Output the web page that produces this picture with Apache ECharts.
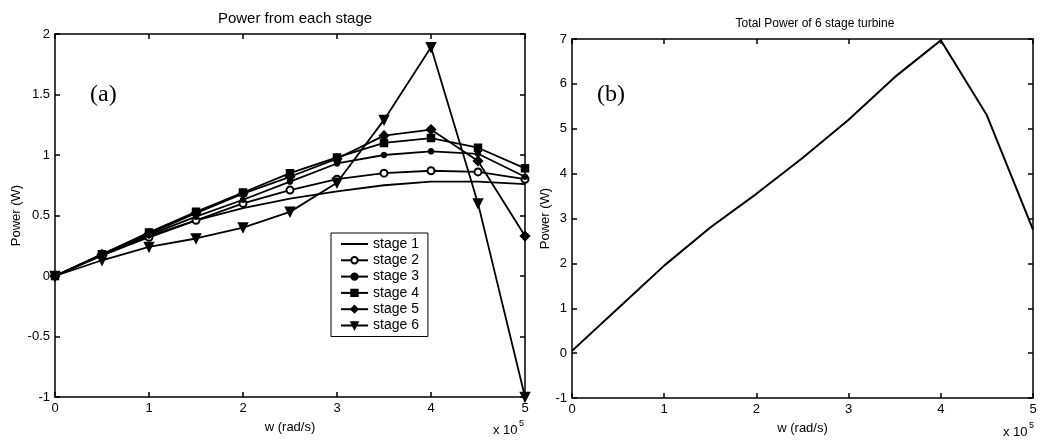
<!DOCTYPE html>
<html>
<head>
<meta charset="utf-8">
<script src="https://cdn.jsdelivr.net/npm/echarts@6/dist/echarts.min.js"></script>
<style>
  html, body { margin: 0; padding: 0; background: #fff; }
  #main { width: 1045px; height: 445px; }
</style>
</head>
<body>
<div id="main"></div>
<script>
// w in units of 1e5 rad/s
const w = [0, 0.5, 1, 1.5, 2, 2.5, 3, 3.5, 4, 4.5, 5];
const stageNames = ['stage 1', 'stage 2', 'stage 3', 'stage 4', 'stage 5', 'stage 6'];
const stage1 = [0, 0.17, 0.33, 0.46, 0.56, 0.64, 0.70, 0.75, 0.78, 0.78, 0.76];
const stage2 = [0, 0.17, 0.32, 0.46, 0.60, 0.71, 0.80, 0.85, 0.87, 0.86, 0.80];
const stage3 = [0, 0.18, 0.34, 0.49, 0.63, 0.78, 0.93, 1.00, 1.03, 1.01, 0.82];
const stage4 = [0, 0.18, 0.36, 0.53, 0.69, 0.85, 0.98, 1.10, 1.14, 1.06, 0.89];
const stage5 = [0, 0.18, 0.35, 0.52, 0.68, 0.82, 0.97, 1.16, 1.21, 0.95, 0.33];
const stage6 = [0, 0.13, 0.24, 0.31, 0.40, 0.53, 0.77, 1.29, 1.89, 0.60, -1.00];
const total = [0.05, 1.00, 1.95, 2.80, 3.55, 4.35, 5.20, 6.15, 6.97, 5.30, 2.75];

const font = '"Liberation Sans", Arial, sans-serif';
const pairs = ys => w.map((x, i) => [x, ys[i]]);

function boxAxis(grid, pos, min, max, interval, labels) {
    return {
        type: 'value', gridIndex: grid, position: pos, min: min, max: max, interval: interval,
        axisLine: { show: true, onZero: false, lineStyle: { color: '#000', width: 1.5 } },
        axisTick: { show: true, inside: true, length: 5, lineStyle: { color: '#000', width: 1.5 } },
        axisLabel: { show: labels, color: '#000', fontFamily: font, fontSize: 13, margin: 5 },
        splitLine: { show: false }
    };
}

function named(axis, name, gap) {
    axis.name = name;
    axis.nameLocation = 'middle';
    axis.nameGap = gap;
    axis.nameTextStyle = { color: '#000', fontFamily: font, fontSize: 13 };
    return axis;
}

const chart = echarts.init(document.getElementById('main'));

const markers = [
    { symbol: 'none', size: 0 },
    { symbol: 'emptyCircle', size: 7 },
    { symbol: 'circle', size: 5 },
    { symbol: 'rect', size: 7 },
    { symbol: 'diamond', size: 9 },
    { symbol: 'triangle', size: 9, rotate: 180 }
];
const stages = [stage1, stage2, stage3, stage4, stage5, stage6];

const series = stages.map((d, i) => ({
    name: stageNames[i],
    type: 'line',
    xAxisIndex: 0, yAxisIndex: 0,
    data: pairs(d),
    symbol: markers[i].symbol,
    symbolSize: markers[i].size,
    symbolRotate: markers[i].rotate || 0,
    showSymbol: markers[i].symbol !== 'none',
    lineStyle: { color: '#000', width: 1.8 },
    itemStyle: { color: '#000', borderColor: '#000', borderWidth: 1.5 },
    animation: false
}));
series.push({
    name: 'total',
    type: 'line',
    xAxisIndex: 2, yAxisIndex: 2,
    data: pairs(total),
    symbol: 'none',
    lineStyle: { color: '#000', width: 2 },
    animation: false
});

// stage 1 has no marker, hide the legend symbol
const legendData = stageNames.map((n, i) => i === 0 ? { name: n, itemStyle: { opacity: 0 } } : { name: n });

chart.setOption({
    backgroundColor: '#fff',
    animation: false,
    title: [
        { text: 'Power from each stage', left: 290, top: 6, textAlign: 'center',
          textStyle: { color: '#000', fontFamily: font, fontSize: 15, fontWeight: 'normal' } },
        { text: 'Total Power of 6 stage turbine', left: 810, top: 13, textAlign: 'center',
          textStyle: { color: '#000', fontFamily: font, fontSize: 12, fontWeight: 'normal' } }
    ],
    legend: {
        data: legendData,
        orient: 'vertical',
        left: 331, top: 233,
        itemWidth: 27, itemHeight: 8, itemGap: 2.3,
        padding: [4, 9, 4, 9],
        borderColor: '#000', borderWidth: 1,
        backgroundColor: '#fff',
        textStyle: { color: '#000', fontFamily: font, fontSize: 14 },
        selectedMode: false
    },
    grid: [
        { left: 55, top: 34, width: 470, height: 363 },
        { left: 572, top: 39, width: 461, height: 359 }
    ],
    xAxis: [
        named(boxAxis(0, 'bottom', 0, 5, 1, true), 'w (rad/s)', 24),
        boxAxis(0, 'top', 0, 5, 1, false),
        named(boxAxis(1, 'bottom', 0, 5, 1, true), 'w (rad/s)', 24),
        boxAxis(1, 'top', 0, 5, 1, false)
    ],
    yAxis: [
        named(boxAxis(0, 'left', -1, 2, 0.5, true), 'Power (W)', 32),
        boxAxis(0, 'right', -1, 2, 0.5, false),
        named(boxAxis(1, 'left', -1, 7, 1, true), 'Power (W)', 20),
        boxAxis(1, 'right', -1, 7, 1, false)
    ],
    graphic: [
        { type: 'text', left: 90, top: 83, style: { text: '(a)', fill: '#000', font: '24px "Liberation Serif", serif' } },
        { type: 'text', left: 597, top: 83, style: { text: '(b)', fill: '#000', font: '24px "Liberation Serif", serif' } },
        { type: 'text', left: 493, top: 424, style: { text: 'x 10', fill: '#000', font: '13px "Liberation Sans", sans-serif' } },
        { type: 'text', left: 519, top: 419, style: { text: '5', fill: '#000', font: '9px "Liberation Sans", sans-serif' } },
        { type: 'text', left: 1003, top: 426, style: { text: 'x 10', fill: '#000', font: '13px "Liberation Sans", sans-serif' } },
        { type: 'text', left: 1029, top: 421, style: { text: '5', fill: '#000', font: '9px "Liberation Sans", sans-serif' } }
    ],
    series: series
});
</script>
</body>
</html>
